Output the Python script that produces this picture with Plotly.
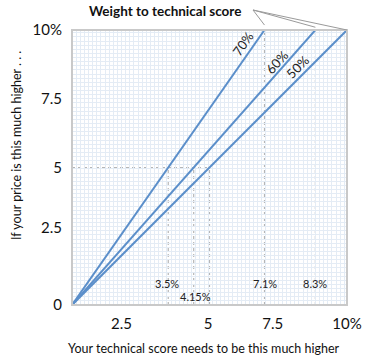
import plotly.graph_objects as go

# ---- data ----
weights = ["70%", "60%", "50%"]          # weight to technical score
end_x = [7.0, 8.85, 10.0]                 # technical-score difference where each line reaches 10% price
end_y = 10.0
label_pos = [(6.2, 9.5), (7.45, 8.84), (8.2, 8.65)]   # where the rotated weight labels sit
marker_texts = ["3.5%", "4.15%", "7.1%", "8.3%"]
marker_text_x = [3.45, 4.5, 7.0, 8.85]
marker_text_y = [0.8, 0.3, 0.8, 0.8]
x_tickvals = [1.8, 4.95, 7.3, 10]
x_ticktext = ["2.5", "5", "7.5", "10%"]
y_tickvals = [0, 2.8, 5, 7.5, 10]
y_ticktext = ["0", "2.5", "5", "7.5", "10%"]
mid_y = 5.0

LINE = "#5b8fca"
DOT = "#b5b5b5"
FONT = "Lato, 'Open Sans', sans-serif"

L, T, R, B = 72, 30, 33, 57
W, H = 380, 362
PW, PH = W - L - R, H - T - B


def px_to_paper(px, py):
    return (px - L) / PW, (H - B - py) / PH


fig = go.Figure()
for w, ex in zip(weights, end_x):
    fig.add_trace(go.Scatter(x=[0, ex], y=[0, end_y], mode="lines", name=w,
                             line=dict(color=LINE, width=2), showlegend=False,
                             hoverinfo="skip"))

shapes = []
for ex in end_x:
    cx = mid_y * ex / end_y
    shapes.append(dict(type="line", xref="x", yref="y", x0=cx, x1=cx, y0=0, y1=mid_y,
                       line=dict(color=DOT, width=1.2, dash="dot"), layer="below"))
shapes.append(dict(type="line", xref="x", yref="y", x0=0, x1=mid_y * end_x[-1] / end_y,
                   y0=mid_y, y1=mid_y, line=dict(color=DOT, width=1.2, dash="dot"), layer="below"))
for ex in end_x[:-1]:
    shapes.append(dict(type="line", xref="x", yref="y", x0=ex, x1=ex, y0=0, y1=end_y,
                       line=dict(color=DOT, width=1.2, dash="dot"), layer="below"))
shapes.append(dict(type="rect", xref="paper", yref="paper", x0=0, x1=1, y0=0, y1=1,
                   line=dict(color="#c9c9c9", width=2)))
sx, sy = px_to_paper(253, 10)
for i, ex in enumerate(end_x):
    shapes.append(dict(type="line", xref="paper", yref="paper", x0=sx, y0=sy,
                       x1=ex / 10, y1=1.0 + (0.018 if i == 0 else 0.01 if i == 1 else 0.0),
                       line=dict(color="#9a9a9a", width=1)))

annotations = []
angles = [-55, -48, -45]
for w, (lx, ly), a in zip(weights, label_pos, angles):
    annotations.append(dict(x=lx, y=ly, xref="x", yref="y", text=w, showarrow=False,
                            xanchor="center", yanchor="middle",
                            textangle=a, font=dict(family=FONT, size=13, color="#222")))
for t, mx, my in zip(marker_texts, marker_text_x, marker_text_y):
    annotations.append(dict(x=mx, y=my, xref="x", yref="y", text=t, showarrow=False,
                            xanchor="center", yanchor="middle",
                            font=dict(family=FONT, size=11, color="#222")))
tx, ty = px_to_paper(165, 11)
annotations.append(dict(x=tx, y=ty, xref="paper", yref="paper", text="<b>Weight to technical score</b>",
                        xanchor="center", yanchor="middle",
                        showarrow=False, font=dict(family=FONT, size=13.5, color="#111")))
ax_, ay_ = px_to_paper(204, 348)
annotations.append(dict(x=ax_, y=ay_, xref="paper", yref="paper",
                        xanchor="center", yanchor="middle",
                        text="Your technical score needs to be this much higher", showarrow=False,
                        font=dict(family=FONT, size=12.5, color="#111")))
yx, yy = px_to_paper(16, 146)
annotations.append(dict(x=yx, y=yy, xref="paper", yref="paper",
                        xanchor="center", yanchor="middle",
                        text="If your price is this much higher . . .", showarrow=False, textangle=-90,
                        font=dict(family=FONT, size=12.5, color="#111")))

grid = dict(tickmode="linear", tick0=0, dtick=0.15, showgrid=True, gridcolor="#e4ecf5", gridwidth=1)
fig.update_layout(
    width=W, height=H,
    margin=dict(l=L, r=R, t=T, b=B, autoexpand=False),
    paper_bgcolor="white", plot_bgcolor="white", shapes=shapes, annotations=annotations,
    xaxis=dict(range=[0, 10], tickmode="array", tickvals=x_tickvals, ticktext=x_ticktext,
               showgrid=False, zeroline=False, showline=False, ticks="", minor=grid,
               tickfont=dict(family=FONT, size=15, color="#111"), ticklabelstandoff=8),
    yaxis=dict(range=[0, 10], tickmode="array", tickvals=y_tickvals, ticktext=y_ticktext,
               showgrid=False, zeroline=False, showline=False, ticks="", minor=grid,
               tickfont=dict(family=FONT, size=15, color="#111"), ticklabelstandoff=9),
)
fig.write_html("out.html", config={"displayModeBar": False},
               post_script="document.body.style.margin='0';document.body.style.overflow='hidden';")
